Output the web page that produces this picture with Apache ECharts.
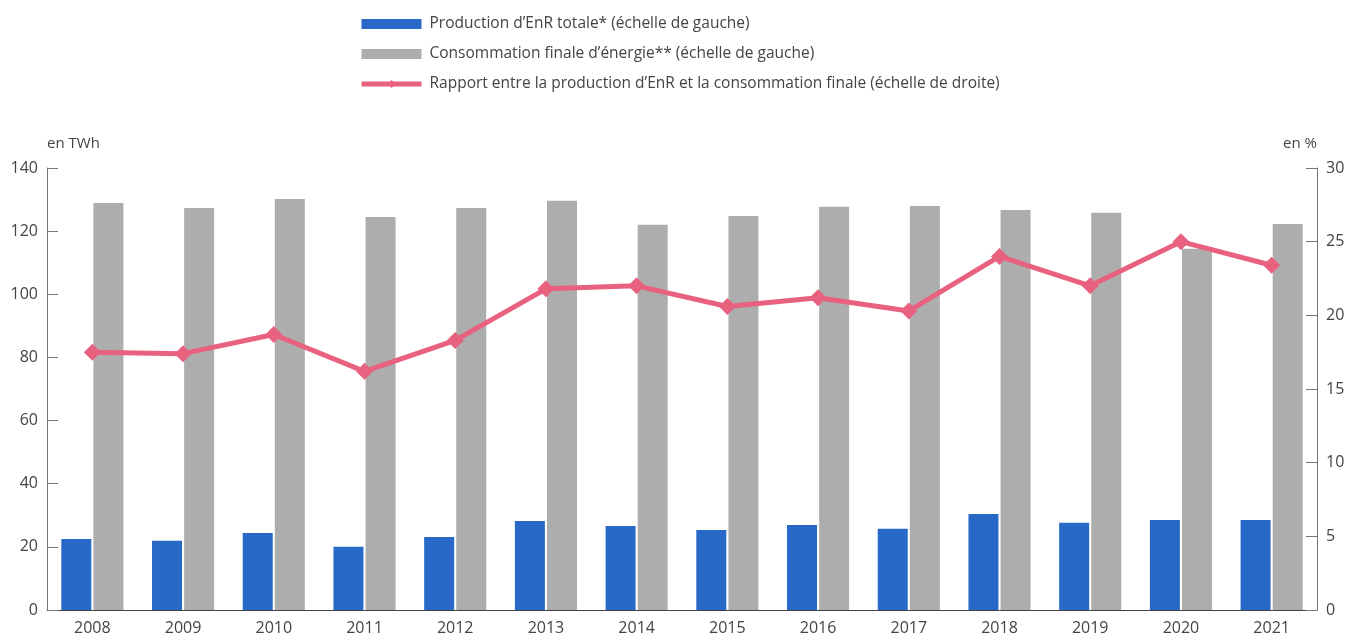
<!DOCTYPE html>
<html>
<head>
<meta charset="utf-8">
<script src="https://cdn.jsdelivr.net/npm/echarts@6/dist/echarts.min.js"></script>
<style>html,body{margin:0;padding:0;background:#fff}#c{width:1348px;height:640px}</style>
</head>
<body>
<div id="c"></div>
<script>
const years = ['2008','2009','2010','2011','2012','2013','2014','2015','2016','2017','2018','2019','2020','2021'];
const production = [22.5, 21.9, 24.4, 20.0, 23.1, 28.2, 26.6, 25.3, 26.9, 25.7, 30.4, 27.6, 28.5, 28.5];
const consommation = [128.9, 127.3, 130.2, 124.5, 127.3, 129.6, 122.0, 124.8, 127.7, 128.0, 126.7, 125.8, 114.4, 122.3];
const rapport = [17.5, 17.4, 18.7, 16.2, 18.3, 21.8, 22.0, 20.6, 21.2, 20.3, 24.0, 22.0, 25.0, 23.4];
const names = [
  'Production d\u2019EnR totale* (échelle de gauche)',
  'Consommation finale d\u2019énergie** (échelle de gauche)',
  'Rapport entre la production d\u2019EnR et la consommation finale (échelle de droite)'
];
const font = '"Open Sans", "Noto Sans", sans-serif';
const chart = echarts.init(document.getElementById('c'));
chart.setOption({
  animation: false,
  textStyle: { fontFamily: font },
  legend: {
    orient: 'vertical', left: 354, top: 11,
    itemWidth: 60, itemHeight: 10, itemGap: 14,
    textStyle: { fontSize: 15.5, color: '#444', fontFamily: font, padding: [0,0,0,3] },
    data: [
      { name: names[0], icon: 'rect' },
      { name: names[1], icon: 'rect' },
      { name: names[2], lineStyle: { width: 5, color: '#E8617F' }, itemStyle: { color: '#E8617F' } }
    ]
  },
  grid: { left: 47, right: 31, top: 168, bottom: 30, containLabel: false },
  xAxis: {
    type: 'category', data: years,
    axisLine: { lineStyle: { color: '#444', width: 1 } },
    axisTick: { show: false },
    axisLabel: { color: '#444', fontSize: 16, margin: 10, fontFamily: font }
  },
  yAxis: [
    {
      type: 'value', min: 0, max: 140, interval: 20,
      name: 'en TWh', nameLocation: 'end', nameGap: 17,
      nameTextStyle: { color: '#444', fontSize: 15, align: 'left', fontFamily: font },
      axisLine: { show: true, lineStyle: { color: '#777' } },
      axisTick: { show: true, inside: true, length: 11, lineStyle: { color: '#777' } },
      splitLine: { show: false },
      axisLabel: { color: '#444', fontSize: 16, margin: 9, fontFamily: font }
    },
    {
      type: 'value', min: 0, max: 30, interval: 5, position: 'right',
      name: 'en %', nameLocation: 'end', nameGap: 17,
      nameTextStyle: { color: '#444', fontSize: 15, align: 'right', fontFamily: font },
      axisLine: { show: true, lineStyle: { color: '#777' } },
      axisTick: { show: true, inside: true, length: 11, lineStyle: { color: '#777' } },
      splitLine: { show: false },
      axisLabel: { color: '#444', fontSize: 16, margin: 9, fontFamily: font }
    }
  ],
  series: [
    { name: names[0], type: 'bar', yAxisIndex: 0, data: production, barWidth: 30, barGap: '7%',
      itemStyle: { color: '#2869C8' } },
    { name: names[1], type: 'bar', yAxisIndex: 0, data: consommation, barWidth: 30,
      itemStyle: { color: '#AEADAE' } },
    { name: names[2], type: 'line', yAxisIndex: 1, data: rapport,
      symbol: 'diamond', symbolSize: 17,
      lineStyle: { color: '#E8617F', width: 5 },
      itemStyle: { color: '#E8617F' } }
  ]
});
</script>
</body>
</html>
